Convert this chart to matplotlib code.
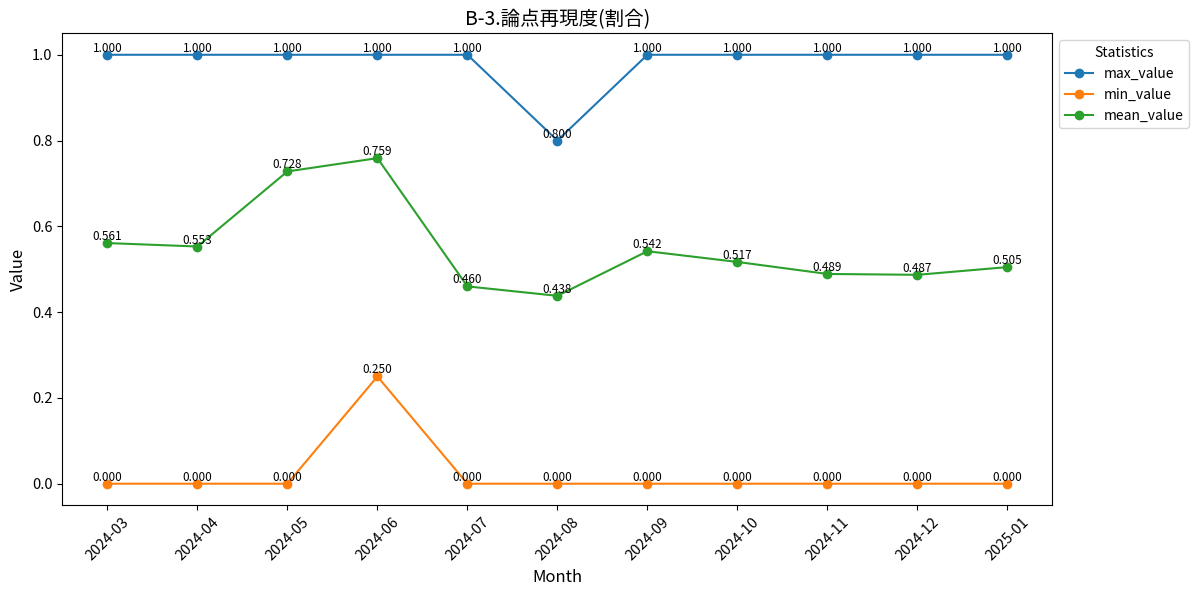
import matplotlib
matplotlib.use('Agg')
import matplotlib.pyplot as plt

plt.rcParams['font.family'] = ['Noto Sans CJK JP', 'DejaVu Sans']

months = ['2024-03', '2024-04', '2024-05', '2024-06', '2024-07', '2024-08',
          '2024-09', '2024-10', '2024-11', '2024-12', '2025-01']
max_value = [1.0, 1.0, 1.0, 1.0, 1.0, 0.8, 1.0, 1.0, 1.0, 1.0, 1.0]
min_value = [0.0, 0.0, 0.0, 0.25, 0.0, 0.0, 0.0, 0.0, 0.0, 0.0, 0.0]
mean_value = [0.561, 0.553, 0.728, 0.759, 0.460, 0.438, 0.542, 0.517, 0.489, 0.487, 0.505]

series = [('max_value', max_value), ('min_value', min_value), ('mean_value', mean_value)]

fig, ax = plt.subplots(figsize=(12, 5.95), dpi=100)
for name, vals in series:
    ax.plot(months, vals, marker='o', label=name)
    for m, v in zip(months, vals):
        ax.text(m, v, f'{v:.3f}', ha='center', va='bottom', fontsize=8.5)

ax.set_title('B-3.論点再現度(割合)', fontsize=14)
ax.set_xlabel('Month', fontsize=12)
ax.set_ylabel('Value', fontsize=12)
ax.tick_params(axis='both', labelsize=10.5)
ax.tick_params(axis='x', rotation=45)
ax.legend(title='Statistics', loc='upper left', bbox_to_anchor=(1.0, 1.0), fontsize=10, title_fontsize=10)
fig.subplots_adjust(left=0.052, right=0.877, top=0.944, bottom=0.151)
fig.savefig('out.png')
